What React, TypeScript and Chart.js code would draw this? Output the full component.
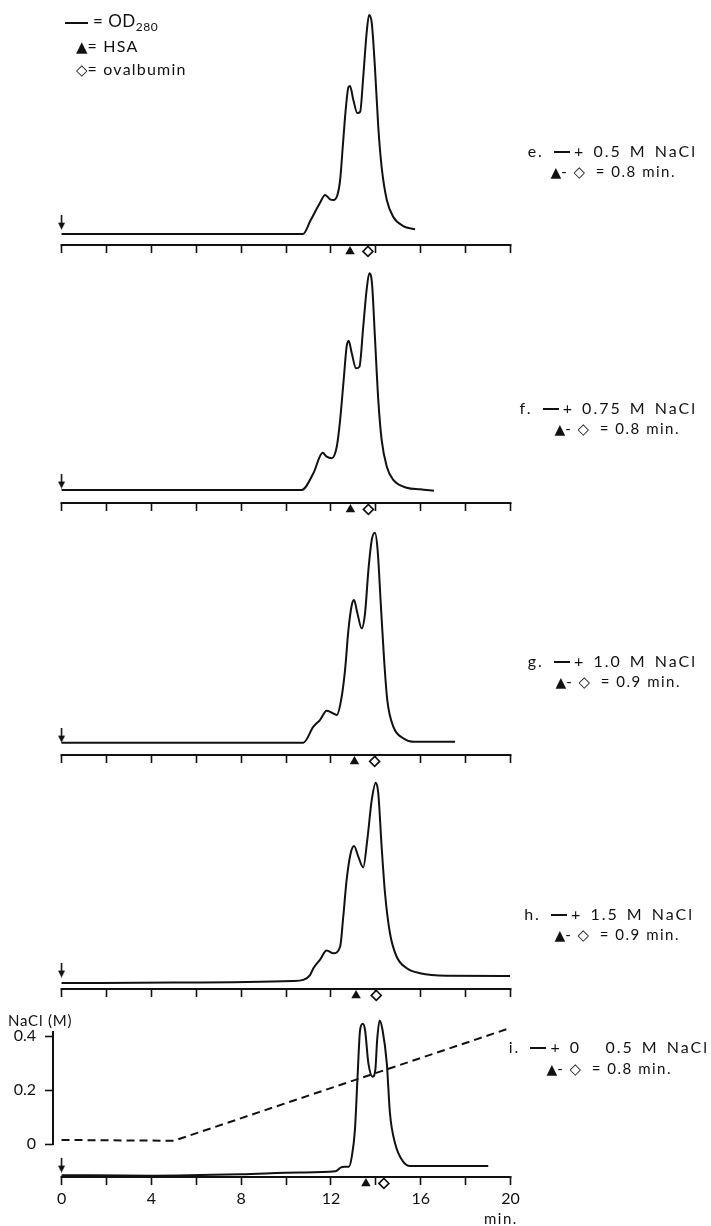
import React, { useEffect, useRef } from "react";
import { Chart, registerables } from "chart.js";

Chart.register(...registerables);

// ---- Elution time axis (min) ----
const TIME_MIN = 0;
const TIME_MAX = 20;
const timeTicks = [0, 2, 4, 6, 8, 10, 12, 14, 16, 18, 20];
const timeTickLabels = ["0", "", "4", "", "8", "", "12", "", "16", "", "20"];

// ---- OD280 traces (arbitrary absorbance units) ----
// e. + 0.5 M NaCl
const timeE = [0, 5, 10.76, 11.1, 11.51, 11.74, 11.96, 12.11, 12.29, 12.41, 12.55, 12.67, 12.78, 12.85, 13.0, 13.18, 13.3, 13.44, 13.59, 13.7, 13.82, 13.96, 14.11, 14.26, 14.49, 14.78, 15.22, 15.75];
const odE = [0.048, 0.048, 0.048, 0.109, 0.184, 0.219, 0.2, 0.197, 0.219, 0.284, 0.459, 0.604, 0.691, 0.696, 0.634, 0.577, 0.582, 0.735, 0.927, 1.006, 0.971, 0.779, 0.516, 0.341, 0.197, 0.122, 0.083, 0.069];

// f. + 0.75 M NaCl
const timeF = [0, 5, 10.7, 11.22, 11.63, 11.81, 12.04, 12.26, 12.41, 12.58, 12.7, 12.79, 12.93, 13.12, 13.27, 13.44, 13.59, 13.71, 13.83, 13.96, 14.11, 14.26, 14.49, 14.78, 15.38, 15.97, 16.59];
const odF = [0.057, 0.057, 0.057, 0.13, 0.22, 0.203, 0.196, 0.246, 0.363, 0.552, 0.684, 0.71, 0.655, 0.589, 0.596, 0.771, 0.932, 1.005, 0.961, 0.727, 0.451, 0.276, 0.159, 0.101, 0.067, 0.06, 0.054];

// g. + 1.0 M NaCl
const timeG = [0, 5, 10.77, 11.22, 11.51, 11.81, 12.04, 12.26, 12.48, 12.63, 12.78, 12.93, 13.03, 13.18, 13.37, 13.52, 13.67, 13.82, 13.96, 14.08, 14.22, 14.37, 14.51, 14.78, 15.22, 15.67, 16.56, 17.53];
const odG = [0.054, 0.054, 0.054, 0.124, 0.153, 0.194, 0.185, 0.175, 0.255, 0.372, 0.547, 0.656, 0.678, 0.62, 0.554, 0.62, 0.809, 0.941, 0.972, 0.897, 0.664, 0.416, 0.241, 0.124, 0.073, 0.058, 0.058, 0.058];

// h. + 1.5 M NaCl
const timeH = [0, 5, 10.3, 10.77, 11.07, 11.22, 11.51, 11.81, 12.11, 12.41, 12.55, 12.7, 12.88, 13.03, 13.22, 13.44, 13.62, 13.82, 14.0, 14.11, 14.26, 14.41, 14.63, 14.93, 15.38, 15.97, 17.16, 19.98];
const odH = [0.026, 0.028, 0.035, 0.04, 0.061, 0.091, 0.127, 0.168, 0.156, 0.185, 0.316, 0.477, 0.594, 0.626, 0.579, 0.532, 0.652, 0.827, 0.902, 0.856, 0.622, 0.419, 0.244, 0.141, 0.091, 0.069, 0.058, 0.057];

// i. + 0 -> 0.5 M NaCl gradient
const timeI = [0, 4, 8, 10.6, 12.2, 12.45, 12.6, 12.8, 12.93, 13.07, 13.18, 13.3, 13.42, 13.52, 13.67, 13.86, 13.98, 14.06, 14.17, 14.3, 14.49, 14.63, 14.86, 15.22, 15.52, 17, 19.01];
const odI = [0.008, 0.006, 0.012, 0.02, 0.025, 0.042, 0.045, 0.045, 0.089, 0.206, 0.424, 0.643, 0.67, 0.643, 0.497, 0.439, 0.47, 0.6, 0.685, 0.643, 0.497, 0.279, 0.147, 0.067, 0.048, 0.048, 0.048];

// NaCl gradient (M) for run i
const naclTime = [0, 5, 20];
const naclConc = [0.015, 0.012, 0.43];
const naclTicks = [0, 0.2, 0.4];
const naclTickLabels = ["0", "0.2", "0.4"];

// Elution positions of the markers (min) and injection arrow height
const hsaTimes = [12.85, 12.87, 13.05, 13.12, 13.56];
const ovalbuminTimes = [13.65, 13.67, 13.95, 14.02, 14.36];
const MARKER_OD = -0.028;
const injectionOd = [0.1, 0.096, 0.087, 0.083, 0.052];

// Run labels
const runLetters = ["e.", "f.", "g.", "h.", "i."];
const runSalt = ["+ 0.5 M NaCl", "+ 0.75 M NaCl", "+ 1.0 M NaCl", "+ 1.5 M NaCl", "+ 0   0.5 M NaCl"];
const runGap = ["0.8", "0.8", "0.9", "0.9", "0.8"];

const FONT = "Lato, 'DejaVu Sans', sans-serif";
const INK = "#111";
const PAGE_W = 711;
const PLOT_LEFT = 53;
const PLOT_RIGHT = 510.5;
const X_START = -0.38;
const OD_PER_PANEL = 1.05;
const PX_PER_OD = 228.6;

type PanelLayout = { top: number; height: number; padTop: number; xHeight: number };
const layouts: PanelLayout[] = [
  { top: 0, height: 265, padTop: 5, xHeight: 20 },
  { top: 258, height: 265, padTop: 5, xHeight: 20 },
  { top: 510, height: 265, padTop: 5, xHeight: 20 },
  { top: 744, height: 265, padTop: 5, xHeight: 20 },
  { top: 1000, height: 226, padTop: 20, xHeight: 49 },
];

const traces = [
  [timeE, odE],
  [timeF, odF],
  [timeG, odG],
  [timeH, odH],
  [timeI, odI],
];

const zip = (xs: number[], ys: number[]) => xs.map((x, i) => ({ x, y: ys[i] }));

function makeArrow(): HTMLCanvasElement {
  const c = document.createElement("canvas");
  c.width = 9;
  c.height = 15;
  const g = c.getContext("2d")!;
  g.strokeStyle = INK;
  g.fillStyle = INK;
  g.lineWidth = 1.6;
  g.beginPath();
  g.moveTo(4.5, 0);
  g.lineTo(4.5, 10);
  g.stroke();
  g.beginPath();
  g.moveTo(1, 8);
  g.lineTo(8, 8);
  g.lineTo(4.5, 15);
  g.closePath();
  g.fill();
  return c;
}

// Axis lines: time axis from 0 to 20 min, and the NaCl axis from 0 to 0.4 M
const axisLines = {
  id: "axisLines",
  beforeDatasetsDraw(chart: any) {
    const { ctx, chartArea, scales } = chart;
    const x = scales.x;
    ctx.save();
    ctx.strokeStyle = INK;
    ctx.lineWidth = 2;
    ctx.beginPath();
    ctx.moveTo(x.getPixelForValue(TIME_MIN) - 1, chartArea.bottom);
    ctx.lineTo(x.getPixelForValue(TIME_MAX) + 1, chartArea.bottom);
    ctx.stroke();
    if (scales.y && scales.y.options.display) {
      const y = scales.y;
      ctx.beginPath();
      ctx.moveTo(chartArea.left, y.getPixelForValue(0) + 1);
      ctx.lineTo(chartArea.left, y.getPixelForValue(naclTicks[naclTicks.length - 1]) - 5);
      ctx.stroke();
    }
    ctx.restore();
  },
};

function Panel({ idx }: { idx: number }) {
  const ref = useRef<HTMLCanvasElement>(null);
  const lay = layouts[idx];
  const withNacl = idx === 4;

  useEffect(() => {
    const arrow = makeArrow();
    const [t, od] = traces[idx];
    const odAxis = withNacl ? "y2" : "y";
    const odMax = (lay.height - lay.padTop - lay.xHeight) / PX_PER_OD;

    const datasets: any[] = [
      {
        data: zip(t, od),
        yAxisID: odAxis,
        borderColor: INK,
        borderWidth: 2,
        pointRadius: 0,
        pointHoverRadius: 0,
        cubicInterpolationMode: "monotone",
        clip: false,
      },
      {
        // HSA elution marker (just under the time axis)
        data: [{ x: hsaTimes[idx], y: MARKER_OD }],
        yAxisID: odAxis,
        showLine: false,
        pointStyle: "triangle",
        pointRadius: 5.5,
        pointHoverRadius: 16,
        pointBackgroundColor: INK,
        pointBorderColor: INK,
        pointBorderWidth: 0,
        clip: false,
      },
      {
        // ovalbumin elution marker
        data: [{ x: ovalbuminTimes[idx], y: MARKER_OD }],
        yAxisID: odAxis,
        showLine: false,
        pointStyle: "rectRot",
        pointRadius: 5,
        pointHoverRadius: 16,
        pointBackgroundColor: "#fff",
        pointBorderColor: INK,
        pointBorderWidth: 1.6,
        clip: false,
      },
      {
        // injection arrow at t = 0
        data: [{ x: TIME_MIN, y: injectionOd[idx] }],
        yAxisID: odAxis,
        showLine: false,
        pointStyle: arrow,
        pointHoverRadius: 16,
        clip: false,
      },
    ];
    if (withNacl) {
      datasets.push({
        data: zip(naclTime, naclConc),
        yAxisID: "y",
        borderColor: INK,
        borderWidth: 2,
        borderDash: [8, 5],
        pointRadius: 0,
        pointHoverRadius: 0,
        tension: 0,
      });
    }

    const scales: any = {
      x: {
        type: "linear",
        min: X_START,
        max: TIME_MAX,
        border: { display: false },
        grid: { drawOnChartArea: false, drawTicks: true, tickLength: 8, tickWidth: 1.6, tickColor: INK },
        ticks: {
          padding: 4,
          color: INK,
          autoSkip: false,
          maxRotation: 0,
          font: { size: 16, family: FONT },
          callback: (_v: number, i: number) => (withNacl ? timeTickLabels[i] : ""),
        },
        afterBuildTicks: (s: any) => {
          s.ticks = timeTicks.map((value) => ({ value }));
        },
        afterFit: (s: any) => {
          s.height = lay.xHeight;
        },
      },
    };
    if (withNacl) {
      scales.y = {
        type: "linear",
        position: "left",
        min: -33 / 270,
        max: 157 / 270 - 33 / 270,
        border: { display: false },
        grid: { drawOnChartArea: false, tickLength: 8, tickWidth: 1.6, tickColor: INK },
        ticks: {
          padding: 9,
          color: INK,
          font: { size: 16, family: FONT },
          callback: (_v: number, i: number) => naclTickLabels[i],
        },
        afterBuildTicks: (s: any) => {
          s.ticks = naclTicks.map((value) => ({ value }));
        },
        afterFit: (s: any) => {
          s.width = PLOT_LEFT;
        },
      };
      scales.y2 = { type: "linear", display: false, min: 0, max: odMax };
    } else {
      scales.y = { type: "linear", display: false, min: 0, max: OD_PER_PANEL };
    }

    const chart = new Chart(ref.current!, {
      type: "line",
      data: { datasets },
      options: {
        animation: false,
        responsive: false,
        devicePixelRatio: 1,
        events: [],
        layout: {
          autoPadding: false,
          padding: { left: withNacl ? 0 : PLOT_LEFT, right: PAGE_W - PLOT_RIGHT, top: lay.padTop, bottom: 0 },
        },
        plugins: { legend: { display: false }, tooltip: { enabled: false } },
        scales,
      },
      plugins: [axisLines],
    });
    return () => chart.destroy();
  }, []);

  return (
    <canvas
      ref={ref}
      width={PAGE_W}
      height={lay.height}
      style={{ position: "absolute", left: 0, top: lay.top, width: PAGE_W, height: lay.height }}
    />
  );
}

function Dash({ w = 16 }: { w?: number }) {
  return (
    <span
      style={{ display: "inline-block", width: w, borderTop: `2px solid ${INK}`, verticalAlign: "middle", margin: "0 4px 2px 2px" }}
    />
  );
}

const textBase: React.CSSProperties = {
  position: "absolute",
  fontFamily: FONT,
  color: INK,
  whiteSpace: "pre",
  lineHeight: "18px",
};

const tri = (size: number) => <span style={{ fontFamily: "'DejaVu Sans'", fontSize: size, letterSpacing: 0 }}>▲</span>;
const dia = (size: number) => <span style={{ fontFamily: "'DejaVu Sans'", fontSize: size, letterSpacing: 0, fontWeight: 700 }}>◇</span>;

// Label anchor points (right edge, vertical centre) for each run
const labelRight1 = [697, 697, 697, 694, 709];
const labelY1 = [151, 408, 661, 914, 1047];
const labelRight2 = [676, 680, 681, 680, 672];
const labelY2 = [171, 428, 681, 934, 1068];

export default function App() {
  useEffect(() => {
    document.body.style.margin = "0";
  }, []);
  return (
    <div style={{ position: "absolute", left: 0, top: 0, width: PAGE_W, height: 1226, background: "#fff", overflow: "hidden" }}>
      {layouts.map((_, i) => (
        <Panel key={i} idx={i} />
      ))}

      {/* key */}
      <div style={{ ...textBase, left: 65, top: 12, fontSize: 17, letterSpacing: 0.5 }}>
        <span style={{ display: "inline-block", width: 23, borderTop: `2px solid ${INK}`, verticalAlign: "middle", marginRight: 5 }} />
        = OD<sub style={{ fontSize: 12, verticalAlign: "-4px" }}>280</sub>
      </div>
      <div style={{ ...textBase, left: 76, top: 37, fontSize: 16, letterSpacing: 1.2 }}>
        {tri(15)}= HSA
      </div>
      <div style={{ ...textBase, left: 76, top: 60, fontSize: 16, letterSpacing: 1.2 }}>
        {dia(15)}= ovalbumin
      </div>

      {runLetters.map((letter, i) => (
        <React.Fragment key={letter}>
          <div style={{ ...textBase, right: PAGE_W - labelRight1[i], top: labelY1[i] - 9, fontSize: 16, letterSpacing: 2, wordSpacing: 2 }}>
            {letter} <Dash />
            {runSalt[i]}
          </div>
          <div style={{ ...textBase, right: PAGE_W - labelRight2[i], top: labelY2[i] - 9, fontSize: 15, letterSpacing: 1.5 }}>
            {tri(14)}-{" "}{dia(15)}{"  "}= {runGap[i]} min.
          </div>
        </React.Fragment>
      ))}

      {/* NaCl axis title and time unit */}
      <div style={{ ...textBase, left: 8, top: 1011, fontSize: 15, letterSpacing: 0.8 }}>NaCl (M)</div>
      <div style={{ ...textBase, left: 484, top: 1209, fontSize: 15, letterSpacing: 1.5 }}>min.</div>
    </div>
  );
}
